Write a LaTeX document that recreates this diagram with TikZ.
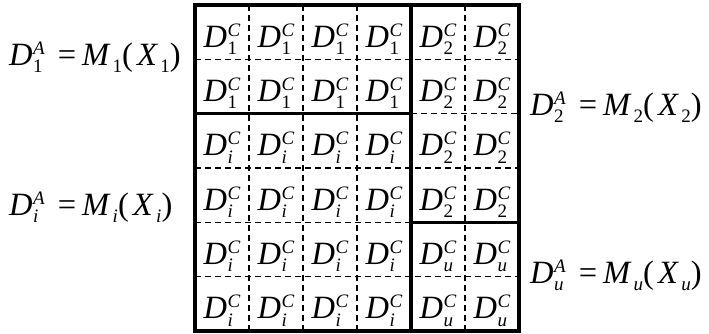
\documentclass[tikz,border=0pt]{standalone}
\usepackage{fontspec}
\setmainfont{Liberation Serif}
\newcommand\scr{\fontsize{19}{19}\selectfont}
\newcommand\SupSub[2]{{\setbox0=\hbox{\scr\raisebox{11pt}{#1}}\setbox2=\hbox{\scr\raisebox{-7.5pt}{#2}}\ifdim\wd0>\wd2 \rlap{\box2}\box0\else\rlap{\box0}\box2\fi}}
\newcommand\Dc[1]{\textit{D}\kern0.5pt\SupSub{\textit{C}}{#1}}
\newcommand\Eq[1]{\textit{D}\kern0.5pt\SupSub{\textit{A}}{#1}\hspace{13pt}=\hspace{6pt}\textit{M}\kern2pt\SupSub{}{#1}(\kern4pt\textit{X}\kern2.5pt\SupSub{}{#1})}
\tikzset{
  cell/.style={inner sep=0pt, anchor=base, font=\fontsize{32.5}{32.5}\selectfont},
  eqlabel/.style={inner sep=0pt, anchor=base west, font=\fontsize{32.5}{32.5}\selectfont},
  thickline/.style={line width=3.2pt, line cap=rect},
  dashline/.style={line width=1.2pt, dash pattern=on 6pt off 4pt}
}
\begin{document}
\begin{tikzpicture}[x=1pt,y=-1pt]
\useasboundingbox (0,0) rectangle (709,333);
\def\cw{54}
\def\rh{54.333}
% cells
\foreach \r in {0,1}{\foreach \c in {0,...,3}{
  \node[cell] (c\r\c) at ({195+\cw*\c+27},{5+\rh*\r+42}) {\Dc{1}};}}
\foreach \r in {2,...,5}{\foreach \c in {0,...,3}{
  \node[cell] (c\r\c) at ({195+\cw*\c+27},{5+\rh*\r+42}) {\Dc{\textit{i}}};}}
\foreach \r in {0,...,3}{\foreach \c in {4,5}{
  \node[cell] (c\r\c) at ({195+\cw*\c+27},{5+\rh*\r+42}) {\Dc{2}};}}
\foreach \r in {4,5}{\foreach \c in {4,5}{
  \node[cell] (c\r\c) at ({195+\cw*\c+27},{5+\rh*\r+42}) {\Dc{\textit{u}}};}}
% dashed lines
\foreach \c in {1,2,3,5}{\draw[dashline] ({195+\cw*\c},5) -- ({195+\cw*\c},331);}
\foreach \r in {1,3,5}{\draw[dashline] (195,{5+\rh*\r}) -- (519,{5+\rh*\r});}
\draw[dashline] (411,{5+\rh*2}) -- (519,{5+\rh*2});
\draw[dashline] (195,{5+\rh*4}) -- (411,{5+\rh*4});
% thick lines
\draw[thickline] (195,5) rectangle (519,331);
\draw[thickline] (411,5) -- (411,331);
\draw[thickline] (195,{5+\rh*2}) -- (411,{5+\rh*2});
\draw[thickline] (411,{5+\rh*4}) -- (519,{5+\rh*4});
% labels
\node[eqlabel] (l1) at (9,65) {\Eq{1}};
\node[eqlabel] (li) at (9,215) {\Eq{\textit{i}}};
\node[eqlabel] (l2) at (530,115) {\Eq{2}};
\node[eqlabel] (lu) at (530,283) {\Eq{\textit{u}}};
\end{tikzpicture}
\end{document}
